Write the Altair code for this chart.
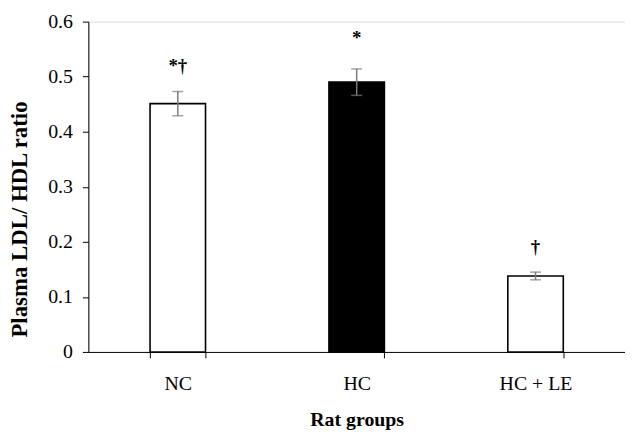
import altair as alt
import pandas as pd

groups = ["NC", "HC", "HC + LE"]
means = [0.451, 0.490, 0.138]
errors = [0.022, 0.024, 0.007]
fills = ["white", "black", "white"]
marks = ["*†", "*", "†"]
mark_y = [0.520, 0.570, 0.190]

df = pd.DataFrame({
    "group": groups,
    "mean": means,
    "lo": [m - e for m, e in zip(means, errors)],
    "hi": [m + e for m, e in zip(means, errors)],
    "fill": fills,
    "mark": marks,
    "my": mark_y,
})

FONT = "Liberation Serif"

x = alt.X("group:N", sort=groups, title="Rat groups",
          scale=alt.Scale(paddingInner=0.69, paddingOuter=0.345),
          axis=alt.Axis(labelAngle=0, tickBand="extent", tickSize=6,
                        labelPadding=15.5, titlePadding=16.5, domainColor="black",
                        tickColor="black", labelFontSize=20, titleFontSize=20,
                        labelFont=FONT, titleFont=FONT, titleFontWeight="bold",
                        labelColor="black", titleColor="black", grid=False))

y_scale = alt.Scale(domain=[0, 0.6], nice=False)

bars = alt.Chart(df).mark_bar(stroke="black", strokeWidth=1.6).encode(
    x=x,
    y=alt.Y("mean:Q", scale=y_scale, title="Plasma LDL/ HDL  ratio",
            axis=alt.Axis(values=[0, 0.1, 0.2, 0.3, 0.4, 0.5, 0.6],
                          labelExpr="datum.value == 0 ? '0' : format(datum.value, '.1f')",
                          tickSize=6, labelPadding=10, titlePadding=16,
                          titleY=199,
                          domainColor="black", tickColor="black",
                          labelFontSize=20, titleFontSize=23,
                          labelFont=FONT, titleFont=FONT, titleFontWeight="bold",
                          labelColor="black", titleColor="black", grid=False)),
    fill=alt.Fill("fill:N", scale=None),
)

rules = alt.Chart(df).mark_rule(color="#7a7a7a", strokeWidth=1.5).encode(
    x=alt.X("group:N", sort=groups), y="lo:Q", y2="hi:Q")

cap_lo = alt.Chart(df).mark_tick(color="#7a7a7a", size=11, thickness=1.5).encode(
    x=alt.X("group:N", sort=groups), y="lo:Q")
cap_hi = alt.Chart(df).mark_tick(color="#7a7a7a", size=11, thickness=1.5).encode(
    x=alt.X("group:N", sort=groups), y="hi:Q")

text = alt.Chart(df).mark_text(font=FONT, fontSize=19, fontWeight="bold",
                               color="black", baseline="middle").encode(
    x=alt.X("group:N", sort=groups), y="my:Q", text="mark:N")

chart = alt.layer(bars, rules, cap_lo, cap_hi, text).properties(
    width=541, height=333,
    autosize=alt.AutoSizeParams(type="none"),
    padding={"left": 81, "top": 12, "right": 0, "bottom": 78},
).configure_view(stroke=None).configure(background="white")

chart.save("out.html", embed_options={"renderer": "svg", "actions": False})
